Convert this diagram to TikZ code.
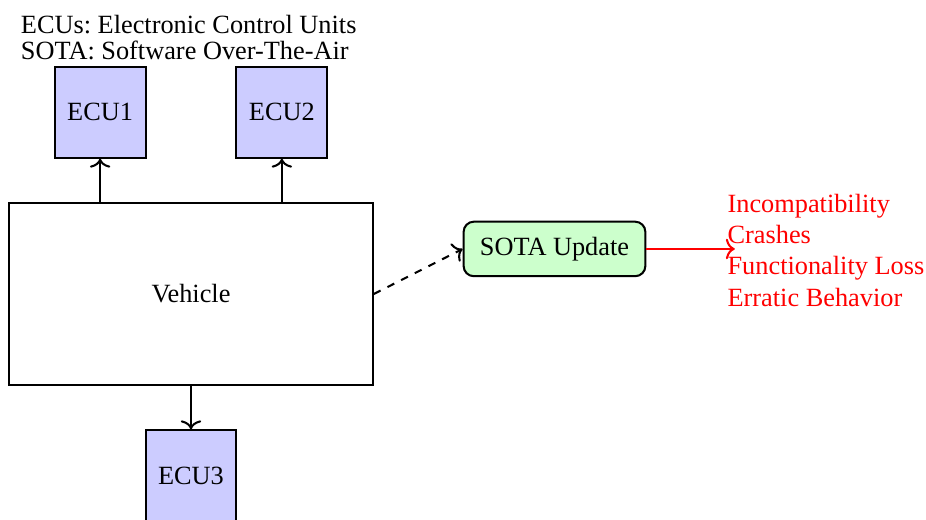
\documentclass[tikz,border=0pt]{standalone}
\usepackage{fontspec}
\setmainfont{Liberation Serif}
\usetikzlibrary{arrows.meta}
\frenchspacing
\begin{document}
\begin{tikzpicture}[thick, >={Computer Modern Rightarrow[width=8pt,length=3.5pt]}, every node/.style={font=\fontsize{10.3}{12.2}\selectfont}, ecu node/.style={rectangle,draw,fill=blue!20,minimum width=1.25cm,minimum height=1.25cm}, update node/.style={rectangle,draw,rounded corners,fill=green!20,minimum width=2.5cm,minimum height=0.75cm}]
\useasboundingbox (-2.627,-3.095) rectangle (10.11,4.044);
\node [draw,minimum width=5cm,minimum height=2.5cm](veh) at (0,0) {Vehicle};
\node [ecu node](ecu1) at (-1.25,2.5) {ECU1};
\node [ecu node](ecu2) at (1.25,2.5) {ECU2};
\node [ecu node](ecu3) at (0,-2.5) {ECU3};
\node [update node](sota) at (5,0.62) {SOTA Update};
\coordinate (riskin) at (7.48,0.62);
\node [red,anchor=west,align=left](risks) at (7.25,0.6) {Incompatibility\\Crashes\\Functionality Loss\\Erratic Behavior};
\node [anchor=north west,align=left](legend) at (-2.47,3.97) {ECUs: Electronic Control Units\\[-1.8pt]SOTA: Software Over-The-Air};
\draw [->] (ecu1 |- veh.north) -- (ecu1);
\draw [->] (ecu2 |- veh.north) -- (ecu2);
\draw [->] (veh) -- (ecu3);
\draw [->, dashed] (veh.east) -- (sota.west);
\draw [->, red] (sota) -- (riskin);
\end{tikzpicture}
\end{document}
